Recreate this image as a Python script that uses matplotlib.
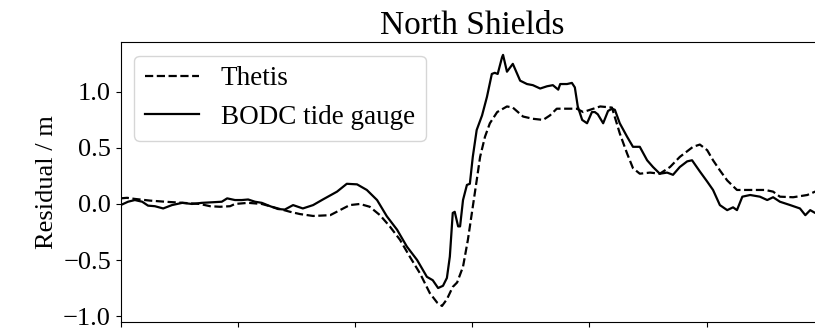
import matplotlib
matplotlib.use("Agg")
import matplotlib.pyplot as plt
import numpy as np

plt.rcParams["font.family"] = ["Liberation Serif", "DejaVu Serif"]
plt.rcParams["font.size"] = 19

# hours since start of record
model_t = [0, 1.3, 2.9, 6.0, 9.1, 12.8, 16.2, 18.3, 20.3, 22.4, 23.4, 26.1, 28.9,
           32.2, 34.7, 36.7, 39.4, 42.9, 44.9, 46.9, 49.0, 51.0, 53.1, 55.1, 57.2,
           59.2, 61.3, 63.3, 64.8, 65.8, 66.8, 68.0, 68.9, 70.1, 71.1, 72.1, 72.9,
           73.6, 74.6, 75.6, 77.1, 79.1, 80.3, 82.4, 84.4, 86.5, 87.9, 89.3, 91.4,
           93.4, 94.7, 96.1, 98.2, 100.6, 102.2, 103.7, 104.9, 106.3, 108.4, 110.4,
           112.5, 114.5, 117.2, 118.6, 120.1, 121.3, 122.7, 124.2, 126.2, 128.9,
           132.0, 133.6, 135.0, 137.7, 140.6, 142.2, 144.0]
model_r = [0.05, 0.055, 0.045, 0.03, 0.02, 0.01, 0.0, -0.02, -0.025, -0.02, 0.0, 0.01,
           0.0, -0.04, -0.07, -0.09, -0.107, -0.1, -0.055, -0.01, 0.0, -0.025, -0.1,
           -0.2, -0.32, -0.47, -0.62, -0.795, -0.88, -0.91, -0.85, -0.74, -0.70,
           -0.56, -0.32, -0.025, 0.21, 0.42, 0.6, 0.72, 0.82, 0.87, 0.86, 0.78, 0.76,
           0.75, 0.79, 0.85, 0.85, 0.85, 0.82, 0.84, 0.87, 0.86, 0.63, 0.45, 0.32,
           0.27, 0.28, 0.27, 0.33, 0.42, 0.51, 0.53, 0.48, 0.39, 0.30, 0.21, 0.125,
           0.125, 0.125, 0.11, 0.065, 0.06, 0.08, 0.11, 0.13]

gauge_t = [0, 1.5, 2.9, 4.4, 5.6, 7.0, 8.7, 10.5, 12.6, 14.6, 16.6, 18.7, 20.7, 21.8,
           23.4, 24.8, 26.1, 27.5, 28.9, 30.6, 32.2, 33.6, 35.3, 37.3, 39.4, 41.4,
           44.3, 46.3, 48.4, 50.4, 52.5, 54.5, 56.6, 58.6, 60.7, 62.7, 63.9, 65.0,
           66.0, 66.8, 67.4, 68.0, 68.4, 69.1, 69.5, 70.1, 70.9, 71.5, 72.1, 72.9,
           74.0, 75.0, 76.0, 76.6, 77.2, 78.1, 78.3, 79.1, 80.3, 81.8, 83.2, 84.4,
           85.9, 87.3, 88.5, 89.6, 90.0, 91.4, 92.4, 93.0, 93.6, 94.5, 95.5, 96.5,
           97.1, 97.7, 98.8, 99.8, 100.6, 101.2, 102.2, 103.7, 104.9, 106.3, 107.8,
           109.0, 110.4, 111.9, 113.1, 114.5, 116.0, 117.0, 118.6, 120.1, 121.3,
           122.7, 124.2, 125.4, 126.2, 127.3, 128.9, 130.9, 132.4, 133.6, 135.0,
           137.1, 139.1, 140.2, 141.2, 142.2, 144.0]
gauge_r = [-0.01, 0.02, 0.035, 0.02, -0.015, -0.02, -0.04, -0.01, 0.01, 0.0, 0.01,
           0.015, 0.02, 0.05, 0.035, 0.035, 0.04, 0.02, 0.01, -0.02, -0.045, -0.05,
           -0.01, -0.04, -0.01, 0.04, 0.11, 0.18, 0.175, 0.125, 0.035, -0.11, -0.23,
           -0.38, -0.5, -0.65, -0.68, -0.75, -0.73, -0.66, -0.47, -0.08, -0.07, -0.2,
           -0.2, 0.035, 0.17, 0.18, 0.42, 0.66, 0.79, 0.955, 1.16, 1.17, 1.16, 1.31,
           1.33, 1.18, 1.25, 1.10, 1.07, 1.06, 1.03, 1.05, 1.06, 1.02, 1.07, 1.07,
           1.08, 1.04, 0.87, 0.75, 0.72, 0.82, 0.82, 0.80, 0.72, 0.83, 0.85, 0.84,
           0.72, 0.6, 0.51, 0.51, 0.39, 0.33, 0.27, 0.28, 0.26, 0.33, 0.38, 0.39,
           0.29, 0.2, 0.125, -0.01, -0.055, -0.03, -0.055, 0.065, 0.08, 0.065, 0.035,
           0.06, 0.02, -0.01, -0.04, -0.1, -0.055, -0.08, -0.07]

fig = plt.figure(figsize=(8.15, 3.31), dpi=100)
ax = fig.add_axes([0.1481, 0.0272, 0.8628, 0.8459])

ax.plot(model_t, model_r, "k--", lw=1.6, label="Thetis")
ax.plot(gauge_t, gauge_r, "k-", lw=1.6, label="BODC tide gauge")

ax.set_xlim(0, 144)
ax.set_ylim(-1.053, 1.445)
ax.set_xticks(np.arange(0, 145, 24))
ax.set_xticklabels([])
ax.set_yticks([-1.0, -0.5, 0.0, 0.5, 1.0])
ax.set_ylabel("Residual / m")
ax.set_title("North Shields", fontsize=24)
ax.legend(loc="upper left", fontsize=19.5)

fig.savefig("out.png", dpi=100)
